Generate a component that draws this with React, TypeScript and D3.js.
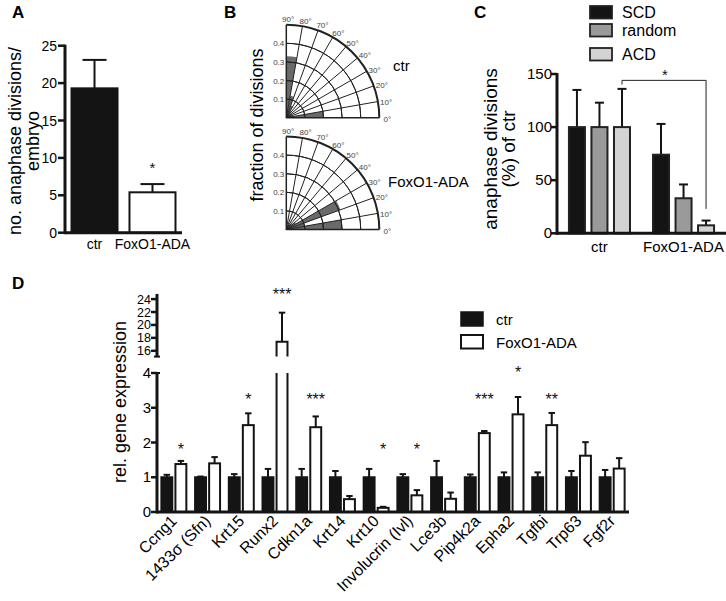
import React from "react";
import * as d3 from "d3";

const FONT = "'Liberation Sans', Arial, Helvetica, sans-serif";

// ---------- Panel A ----------
const aGroups = ["ctr", "FoxO1-ADA"];
const aMeans = [19.3, 5.4];
const aSem = [3.8, 1.1];
const aTicks = [0, 5, 10, 15, 20, 25];
const aSig = ["", "*"];
const aSigLevel = [0, 9];

// ---------- Panel B ----------
const bBins = [0, 10, 20, 30, 40, 50, 60, 70, 80];
const bCtr = [0.2, 0.03, 0.03, 0.03, 0.03, 0.04, 0.07, 0.12, 0.33];
const bFox = [0.3, 0.1, 0.31, 0.06, 0.04, 0.03, 0.03, 0.02, 0.02];
const bRings = [0.1, 0.2, 0.3, 0.4, 0.5];
const bRadTicks = [0.1, 0.2, 0.3, 0.4];
const bAngles = [0, 10, 20, 30, 40, 50, 60, 70, 80, 90];
const bLabels = ["ctr", "FoxO1-ADA"];

// ---------- Panel C ----------
const cGroups = ["ctr", "FoxO1-ADA"];
const cSeries = ["SCD", "random", "ACD"];
const cColors = ["#141414", "#9a9a9a", "#d3d3d3"];
const cScd = [100, 74];
const cScdSem = [35, 29];
const cRandom = [100, 33];
const cRandomSem = [23, 13];
const cAcd = [100, 7.5];
const cAcdSem = [36, 4.5];
const cTicks = [0, 50, 100, 150];

// ---------- Panel D ----------
const dGenes = [
  "Ccng1", "1433σ (Sfn)", "Krt15", "Runx2", "Cdkn1a", "Krt14", "Krt10",
  "Involucrin (Ivl)", "Lce3b", "Pip4k2a", "Epha2", "Tgfbi", "Trp63", "Fgf2r",
];
const dCtr = [1, 1, 1, 1, 1, 1, 1, 1, 1, 1, 1, 1, 1, 1];
const dCtrSem = [0.07, 0.02, 0.09, 0.24, 0.24, 0.18, 0.24, 0.09, 0.47, 0.08, 0.14, 0.14, 0.18, 0.21];
const dFox = [1.38, 1.4, 2.5, 17.4, 2.44, 0.37, 0.12, 0.48, 0.38, 2.27, 2.81, 2.5, 1.62, 1.25];
const dFoxSem = [0.09, 0.18, 0.34, 4.5, 0.31, 0.09, 0.03, 0.15, 0.18, 0.06, 0.5, 0.35, 0.39, 0.3];
const dSig = ["*", "", "*", "***", "***", "", "*", "*", "", "***", "*", "**", "", ""];
const dSigLevel = [1.87, 0, 3.31, 25.1, 3.31, 0, 1.87, 1.87, 0, 3.31, 4.1, 3.31, 0, 0];
const dLowTicks = [0, 1, 2, 3, 4];
const dHighTicks = [16, 18, 20, 22, 24];
const dSeries = ["ctr", "FoxO1-ADA"];

const BLACK = "#141414";

function Star({ x, y, text, fs = 16 }: { x: number; y: number; text: string; fs?: number }) {
  return (
    <text x={x} y={y + fs * 0.5} fontSize={fs} textAnchor="middle" fontFamily={FONT} fill="#111">
      {text}
    </text>
  );
}

function PanelA() {
  const y = d3.scaleLinear().domain([0, 25]).range([232.7, 45.7]);
  const x = d3.scaleBand().domain(aGroups).range([65, 182]).paddingInner(0.172).paddingOuter(0.095);
  const bw = x.bandwidth();
  return (
    <g>
      <text x={12} y={18} fontSize={17} fontWeight="bold" fontFamily={FONT}>A</text>
      <text transform="translate(21,141) rotate(-90)" textAnchor="middle" fontSize={18} fontFamily={FONT}>no. anaphase divisions/</text>
      <text transform="translate(39,141) rotate(-90)" textAnchor="middle" fontSize={18} fontFamily={FONT}>embryo</text>
      {aGroups.map((g, i) => {
        const x0 = x(g)!;
        const top = y(aMeans[i]);
        const et = y(aMeans[i] + aSem[i]);
        const cx = x0 + bw / 2;
        return (
          <g key={g}>
            <line x1={cx} x2={cx} y1={top} y2={et} stroke={BLACK} strokeWidth={2} />
            <line x1={cx - bw / 4} x2={cx + bw / 4} y1={et} y2={et} stroke={BLACK} strokeWidth={2} />
            <rect x={x0 + 1} y={top} width={bw - 2} height={y(0) - top} fill={i === 0 ? BLACK : "#fff"} stroke={BLACK} strokeWidth={2} />
            {aSig[i] && <Star x={cx} y={y(aSigLevel[i])} text={aSig[i]} fs={15} />}
            <text x={cx} y={y(0) + 16} textAnchor="middle" fontSize={14} fontFamily={FONT}>{g}</text>
          </g>
        );
      })}
      <line x1={65} x2={65} y1={y(25) - 1} y2={y(0) + 1.5} stroke={BLACK} strokeWidth={3} />
      <line x1={65} x2={182} y1={y(0)} y2={y(0)} stroke={BLACK} strokeWidth={3} />
      {aTicks.map((t) => (
        <g key={t}>
          <line x1={58} x2={65} y1={y(t)} y2={y(t)} stroke={BLACK} strokeWidth={2.5} />
          <text x={57} y={y(t) + 5} textAnchor="end" fontSize={14} fontFamily={FONT}>{t}</text>
        </g>
      ))}
    </g>
  );
}

function Polar({ cx, cy, values, label, ly }: { cx: number; cy: number; values: number[]; label: string; ly: number }) {
  const r = d3.scaleLinear().domain([0, 0.5]).range([0, 93]);
  const R = r(0.5);
  const arc = d3.arc<any>();
  const rad = (deg: number) => (deg * Math.PI) / 180;
  return (
    <g>
      <g transform={`translate(${cx},${cy})`}>
        {bBins.map((a, i) => (
          <path
            key={a}
            d={arc({ innerRadius: 0, outerRadius: r(values[i]), startAngle: Math.PI / 2 - rad(a + 10), endAngle: Math.PI / 2 - rad(a) })!}
            fill="#6a6a6a"
          />
        ))}
        {bRings.map((v) => (
          <path
            key={v}
            d={arc({ innerRadius: r(v), outerRadius: r(v), startAngle: 0, endAngle: Math.PI / 2 })!}
            fill="none"
            stroke="#222"
            strokeWidth={v === 0.5 ? 2 : 1}
          />
        ))}
        {bAngles.map((a) => (
          <line key={a} x1={0} y1={0} x2={R * Math.cos(rad(a))} y2={-R * Math.sin(rad(a))} stroke="#222" strokeWidth={a === 0 || a === 90 ? 1.5 : 1} />
        ))}
        {bAngles.map((a) => (
          <text
            key={"l" + a}
            x={(R + 8) * Math.cos(rad(a - 1))}
            y={-(R + 6) * Math.sin(rad(a - 1)) + 3}
            textAnchor="middle"
            fontSize={8}
            fill="#444"
            fontFamily={FONT}
          >
            {a}°
          </text>
        ))}
        {bRadTicks.map((v) => (
          <text key={v} x={-2} y={-r(v) + 3} textAnchor="end" fontSize={8} fill="#444" fontFamily={FONT}>
            {v.toFixed(1)}
          </text>
        ))}
      </g>
      <text x={label === "ctr" ? 393 : 388} y={ly} fontSize={15} fontFamily={FONT}>{label}</text>
    </g>
  );
}

function PanelB() {
  return (
    <g>
      <text x={224} y={18} fontSize={17} fontWeight="bold" fontFamily={FONT}>B</text>
      <text transform="translate(263,125) rotate(-90)" textAnchor="middle" fontSize={18} fontFamily={FONT}>fraction of divisions</text>
      <Polar cx={286.3} cy={117.7} values={bCtr} label={bLabels[0]} ly={71} />
      <Polar cx={286.3} cy={229.5} values={bFox} label={bLabels[1]} ly={187} />
    </g>
  );
}

function PanelC() {
  const y = d3.scaleLinear().domain([0, 150]).range([233.3, 74]);
  const x0 = d3.scaleBand().domain(cGroups).range([557, 726]).paddingInner(0.25).paddingOuter(0.13);
  const x1 = d3.scaleBand().domain(cSeries).range([0, x0.bandwidth()]).paddingInner(0.2);
  const bw = x1.bandwidth();
  const means = [cScd, cRandom, cAcd];
  const sems = [cScdSem, cRandomSem, cAcdSem];
  const legY = [6, 24, 48];
  const bl = x0(cGroups[0])! + x1("ACD")! + bw / 2;
  const br = x0(cGroups[1])! + x1("ACD")! + bw / 2;
  return (
    <g>
      <text x={474} y={18} fontSize={17} fontWeight="bold" fontFamily={FONT}>C</text>
      <text transform="translate(497,149) rotate(-90)" textAnchor="middle" fontSize={19} fontFamily={FONT}>anaphase divisions</text>
      <text transform="translate(515,149) rotate(-90)" textAnchor="middle" fontSize={19} fontFamily={FONT}>(%) of ctr</text>
      {cSeries.map((s, si) => (
        <g key={s}>
          <rect x={590} y={legY[si]} width={22} height={12.5} fill={cColors[si]} stroke="#222" strokeWidth={1.8} />
          <text x={622} y={legY[si] + 12} fontSize={16} fontFamily={FONT}>{s}</text>
        </g>
      ))}
      {cGroups.map((g, gi) => (
        <g key={g}>
          {cSeries.map((s, si) => {
            const xx = x0(g)! + x1(s)!;
            const top = y(means[si][gi]);
            const et = y(means[si][gi] + sems[si][gi]);
            const cx = xx + bw / 2;
            return (
              <g key={s}>
                <line x1={cx} x2={cx} y1={top} y2={et} stroke={BLACK} strokeWidth={2} />
                <line x1={cx - bw / 4} x2={cx + bw / 4} y1={et} y2={et} stroke={BLACK} strokeWidth={2} />
                <rect x={xx + 1} y={top} width={bw - 2} height={y(0) - top} fill={cColors[si]} stroke="#222" strokeWidth={2} />
              </g>
            );
          })}
          <text x={x0(g)! + x0.bandwidth() / 2} y={252} textAnchor="middle" fontSize={15} fontFamily={FONT}>{g}</text>
        </g>
      ))}
      <path d={`M${bl},${y(140)}V${y(144)}H${br}V${y(23)}`} fill="none" stroke="#222" strokeWidth={1} />
      <Star x={(bl + br) / 2 + 1} y={y(151.5)} text="*" fs={15} />
      <line x1={557} x2={557} y1={y(150) - 1} y2={y(0) + 1.5} stroke={BLACK} strokeWidth={3} />
      <line x1={557} x2={726} y1={y(0)} y2={y(0)} stroke={BLACK} strokeWidth={3} />
      {cTicks.map((t) => (
        <g key={t}>
          <line x1={551} x2={557} y1={y(t)} y2={y(t)} stroke={BLACK} strokeWidth={2.5} />
          <text x={552} y={y(t) + 5} textAnchor="end" fontSize={15} fontFamily={FONT}>{t}</text>
        </g>
      ))}
    </g>
  );
}

function PanelD() {
  const yLow = d3.scaleLinear().domain([0, 4]).range([512, 373]);
  const yHigh = d3.scaleLinear().domain([16, 24]).range([350.8, 299.1]);
  const yD = (v: number) => (v > 4.6 ? yHigh(v) : yLow(v));
  const brk = 15.1;
  const x0 = d3.scaleBand().domain(dGenes).range([157, 629]).paddingInner(0.2).paddingOuter(0.1);
  const x1 = d3.scaleBand().domain(dSeries).range([0, x0.bandwidth()]).paddingInner(0.08);
  const bw = x1.bandwidth();
  const axX = 157;
  return (
    <g>
      <text x={12} y={289} fontSize={17} fontWeight="bold" fontFamily={FONT}>D</text>
      <text transform="translate(126,402) rotate(-90)" textAnchor="middle" fontSize={18} fontFamily={FONT}>rel. gene expression</text>
      {/* legend */}
      <rect x={461} y={312} width={22} height={14} fill={BLACK} stroke={BLACK} strokeWidth={1.5} />
      <text x={496} y={325} fontSize={15} fontFamily={FONT}>ctr</text>
      <rect x={461} y={335} width={22} height={13.5} fill="#fff" stroke={BLACK} strokeWidth={2} />
      <text x={496} y={348} fontSize={15} fontFamily={FONT}>FoxO1-ADA</text>
      {dGenes.map((g, i) => {
        const gx = x0(g)!;
        const cxC = gx + x1("ctr")! + bw / 2;
        const xF = gx + x1("FoxO1-ADA")!;
        const cxF = xF + bw / 2;
        const vC = dCtr[i];
        const vF = dFox[i];
        const etC = yD(vC + dCtrSem[i]);
        const etF = yD(vF + dFoxSem[i]);
        const broken = vF > 4;
        return (
          <g key={g}>
            <line x1={cxC} x2={cxC} y1={yLow(vC)} y2={etC} stroke={BLACK} strokeWidth={2} />
            <line x1={cxC - bw / 4} x2={cxC + bw / 4} y1={etC} y2={etC} stroke={BLACK} strokeWidth={2} />
            <rect x={gx + x1("ctr")! + 1} y={yLow(vC)} width={bw - 2} height={yLow(0) - yLow(vC)} fill={BLACK} stroke={BLACK} strokeWidth={2} />
            <line x1={cxF} x2={cxF} y1={yD(vF)} y2={etF} stroke={BLACK} strokeWidth={2} />
            <line x1={cxF - bw / 4} x2={cxF + bw / 4} y1={etF} y2={etF} stroke={BLACK} strokeWidth={2} />
            {broken ? (
              <g fill="none" stroke={BLACK} strokeWidth={2}>
                <path d={`M${xF + 1},${yLow(0)}V${yLow(4)}M${xF + bw - 1},${yLow(0)}V${yLow(4)}`} />
                <path d={`M${xF + 1},${yHigh(brk)}V${yHigh(vF)}H${xF + bw - 1}V${yHigh(brk)}`} fill="#fff" />
              </g>
            ) : (
              <rect x={xF + 1} y={yLow(vF)} width={bw - 2} height={yLow(0) - yLow(vF)} fill="#fff" stroke={BLACK} strokeWidth={2} />
            )}
            {dSig[i] && <Star x={cxF} y={yD(dSigLevel[i])} text={dSig[i]} fs={16} />}
            <text
              transform={`translate(${gx + x0.bandwidth() / 2 + 4},${522}) rotate(-45)`}
              textAnchor="end"
              fontSize={16}
              fontFamily={FONT}
            >
              {g}
            </text>
          </g>
        );
      })}
      {/* axes */}
      <line x1={axX} x2={axX} y1={yLow(4) - 1} y2={yLow(0) + 1.5} stroke={BLACK} strokeWidth={3} />
      <line x1={axX} x2={629} y1={yLow(0)} y2={yLow(0)} stroke={BLACK} strokeWidth={3} />
      <line x1={axX} x2={axX} y1={yHigh(24.8)} y2={yHigh(brk)} stroke={BLACK} strokeWidth={3} />
      <line x1={axX - 3} x2={axX + 3} y1={yHigh(brk)} y2={yHigh(brk)} stroke={BLACK} strokeWidth={2} />
      <line x1={axX - 3} x2={axX + 3} y1={yLow(4)} y2={yLow(4)} stroke={BLACK} strokeWidth={2} />
      {dLowTicks.map((t) => (
        <g key={"l" + t}>
          <line x1={151} x2={axX} y1={yLow(t)} y2={yLow(t)} stroke={BLACK} strokeWidth={2.5} />
          <text x={151} y={yLow(t) + 5} textAnchor="end" fontSize={15} fontFamily={FONT}>{t}</text>
        </g>
      ))}
      {dHighTicks.map((t) => (
        <g key={"h" + t}>
          <line x1={151} x2={axX} y1={yHigh(t)} y2={yHigh(t)} stroke={BLACK} strokeWidth={2.5} />
          <text x={151} y={yHigh(t) + 4.5} textAnchor="end" fontSize={12.5} fontFamily={FONT}>{t}</text>
        </g>
      ))}
    </g>
  );
}

export default function App() {
  return (
    <svg
      width={726}
      height={601}
      viewBox="0 0 726 601"
      style={{ position: "absolute", left: 0, top: 0, background: "#fff" }}
    >
      <rect x={0} y={0} width={726} height={601} fill="#fff" />
      <PanelA />
      <PanelB />
      <PanelC />
      <PanelD />
    </svg>
  );
}
